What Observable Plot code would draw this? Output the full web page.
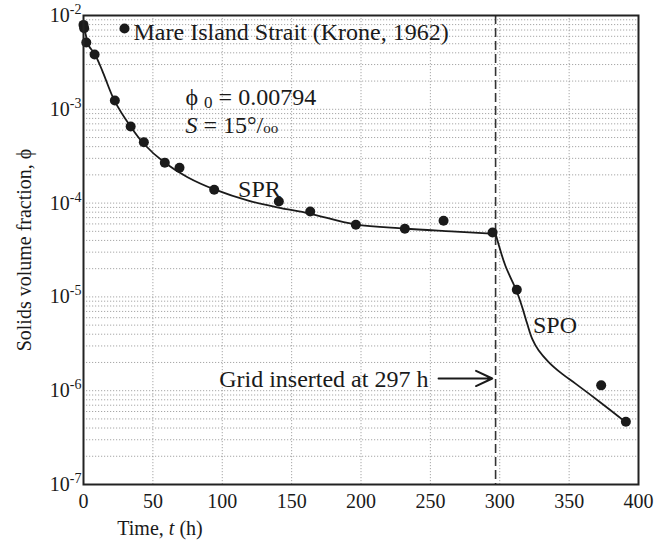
<!DOCTYPE html>
<html>
<head>
<meta charset="utf-8">
<script src="https://cdn.jsdelivr.net/npm/d3@7"></script>
<script src="https://cdn.jsdelivr.net/npm/@observablehq/plot@0.6"></script>
<style>
  html, body { margin: 0; padding: 0; background: white; }
  #chart svg { display: block; }
  #chart svg text { font-family: "Liberation Serif", "Times New Roman", serif; }
</style>
</head>
<body>
<div id="chart"></div>
<script>
// ---- Data ----
const obsTime = [0, 0.5, 2, 8, 22.6, 34, 43.5, 58.6, 69.2, 94.2, 140.8, 163.4, 196.3, 231.6, 259.5, 294.8, 312.3, 373.1, 390.9];
const obsPhi  = [7.94e-3, 7.3e-3, 5.15e-3, 3.84e-3, 1.24e-3, 6.56e-4, 4.46e-4, 2.69e-4, 2.38e-4, 1.39e-4, 1.04e-4, 8.13e-5, 5.87e-5, 5.32e-5, 6.47e-5, 4.86e-5, 1.19e-5, 1.14e-6, 4.66e-7];

const sprTime = [0, 1.4, 4, 7.9, 13.5, 22.3, 33.9, 43.2, 58.4, 75, 94.4, 120, 140.5, 163, 196, 231, 265, 297];
const sprPhi  = [7.94e-3, 6.43e-3, 4.7e-3, 3.94e-3, 2.59e-3, 1.24e-3, 6.56e-4, 4.32e-4, 2.71e-4, 1.89e-4, 1.40e-4, 1.05e-4, 8.97e-5, 7.74e-5, 5.92e-5, 5.36e-5, 5.0e-5, 4.7e-5];

const spoTime = [297, 304, 312, 316.2, 319.8, 323.4, 328.1, 335.4, 345, 354.6, 372.6, 391];
const spoPhi  = [4.7e-5, 2.16e-5, 1.17e-5, 7.76e-6, 5.16e-6, 3.57e-6, 2.68e-6, 2.01e-6, 1.51e-6, 1.19e-6, 7.5e-7, 4.6e-7];

const xTicks = [0, 50, 100, 150, 200, 250, 300, 350, 400];
const xGrid = [50, 100, 150, 200, 250, 300, 350];
const yTicks = [1e-7, 1e-6, 1e-5, 1e-4, 1e-3, 1e-2];
const yGrid = [];
for (let k = -7; k <= -3; k++) for (let m = 1; m <= 9; m++) yGrid.push(m * Math.pow(10, k));

const legendLabel = "Mare Island Strait (Krone, 1962)";
const gridTime = 297;

const obs = obsTime.map((t, i) => ({t, phi: obsPhi[i]}));
const spr = sprTime.map((t, i) => ({t, phi: sprPhi[i]}));
const spo = spoTime.map((t, i) => ({t, phi: spoPhi[i]}));

const INK = "#1a1a1a";
const BIG = 24;
const SERIF = "Liberation Serif, Times New Roman, serif";

const plot = Plot.plot({
  width: 666,
  height: 545,
  marginLeft: 83,
  marginRight: 28,
  marginTop: 15,
  marginBottom: 61,
  style: {fontFamily: SERIF, fontSize: "20px", color: INK, background: "white"},
  x: {domain: [0, 400]},
  y: {type: "log", domain: [1e-7, 1e-2]},
  marks: [
    Plot.ruleY(yGrid, {stroke: "#909090", strokeWidth: 0.8, strokeDasharray: "1.2,1.8"}),
    Plot.ruleX(xGrid, {stroke: "#909090", strokeWidth: 0.8, strokeDasharray: "1.2,1.8"}),
    Plot.ruleX([gridTime], {stroke: "#333", strokeWidth: 1.6, strokeDasharray: "9,4"}),
    Plot.line(spr, {x: "t", y: "phi", stroke: INK, strokeWidth: 1.8, curve: "catmull-rom"}),
    Plot.line(spo, {x: "t", y: "phi", stroke: INK, strokeWidth: 1.8, curve: "catmull-rom"}),
    Plot.dot(obs, {x: "t", y: "phi", r: 5, fill: INK, stroke: "none"}),
    Plot.frame({stroke: "#222", strokeWidth: 2}),
    Plot.axisX({ticks: xTicks, tickSize: 0, tickPadding: 9, tickFormat: d => String(d), label: null, fontSize: 20, fontFamily: SERIF}),
    Plot.axisY({ticks: yTicks, tickSize: 0, tickPadding: 2, tickFormat: d => "10^" + Math.round(Math.log10(d)), label: null, fontSize: 20, fontFamily: SERIF}),
    // legend
    Plot.dot([legendLabel], {frameAnchor: "top-left", dx: 41, dy: 13, r: 5, fill: INK}),
    Plot.text([legendLabel], {frameAnchor: "top-left", dx: 50, dy: 17, textAnchor: "start", lineAnchor: "middle", fontSize: BIG, fill: INK}),
    // annotations
    Plot.text(["PHI0"], {x: 73.5, y: 1.349e-3, textAnchor: "start", lineAnchor: "middle", fontSize: BIG, fill: INK}),
    Plot.text(["SAL"], {x: 73.5, y: 6.67e-4, textAnchor: "start", lineAnchor: "middle", fontSize: BIG, fill: INK}),
    Plot.text(["SPR"], {x: 126.8, y: 1.41e-4, textAnchor: "middle", lineAnchor: "middle", fontSize: BIG, fill: INK}),
    Plot.text(["SPO"], {x: 339.8, y: 5.0e-6, textAnchor: "middle", lineAnchor: "middle", fontSize: BIG, fill: INK}),
    Plot.text(["Grid inserted at 297 h"], {x: 248.6, y: 1.31e-6, textAnchor: "end", lineAnchor: "middle", fontSize: BIG, fill: INK}),
    Plot.arrow([{x1: 255.9, y1: 1.35e-6, x2: 294.6, y2: 1.35e-6}], {x1: "x1", y1: "y1", x2: "x2", y2: "y2", stroke: INK, strokeWidth: 2, headLength: 18, headAngle: 50})
  ]
});

document.getElementById("chart").appendChild(plot);
const svg = d3.select(plot);

// rich text: superscripts, subscripts, italics
svg.selectAll("text").each(function() {
  const el = d3.select(this);
  const s = this.textContent;
  if (/^10\^-?\d+$/.test(s)) {
    const exp = s.split("^")[1];
    el.text(null);
    el.append("tspan").text("10");
    el.append("tspan").attr("dy", "-8").attr("font-size", 14).text(exp);
  } else if (s === "PHI0") {
    el.text(null);
    el.append("tspan").text("ϕ ");
    el.append("tspan").attr("font-size", 17).attr("dy", "3").text("0");
    el.append("tspan").attr("dy", "-3").text(" = 0.00794");
  } else if (s === "SAL") {
    el.text(null);
    el.append("tspan").attr("font-style", "italic").text("S");
    el.append("tspan").text(" = 15°/");
    el.append("tspan").attr("font-size", 15).text("oo");
  }
});

// axis titles
svg.append("text")
  .attr("transform", "translate(31,250) rotate(-90)")
  .attr("text-anchor", "middle")
  .attr("font-size", 20)
  .attr("fill", INK)
  .text("Solids volume fraction, ϕ");

const xt = svg.append("text")
  .attr("x", 160).attr("y", 535)
  .attr("text-anchor", "middle")
  .attr("font-size", 20)
  .attr("fill", INK);
xt.append("tspan").text("Time, ");
xt.append("tspan").attr("font-style", "italic").text("t");
xt.append("tspan").text(" (h)");
</script>
</body>
</html>
